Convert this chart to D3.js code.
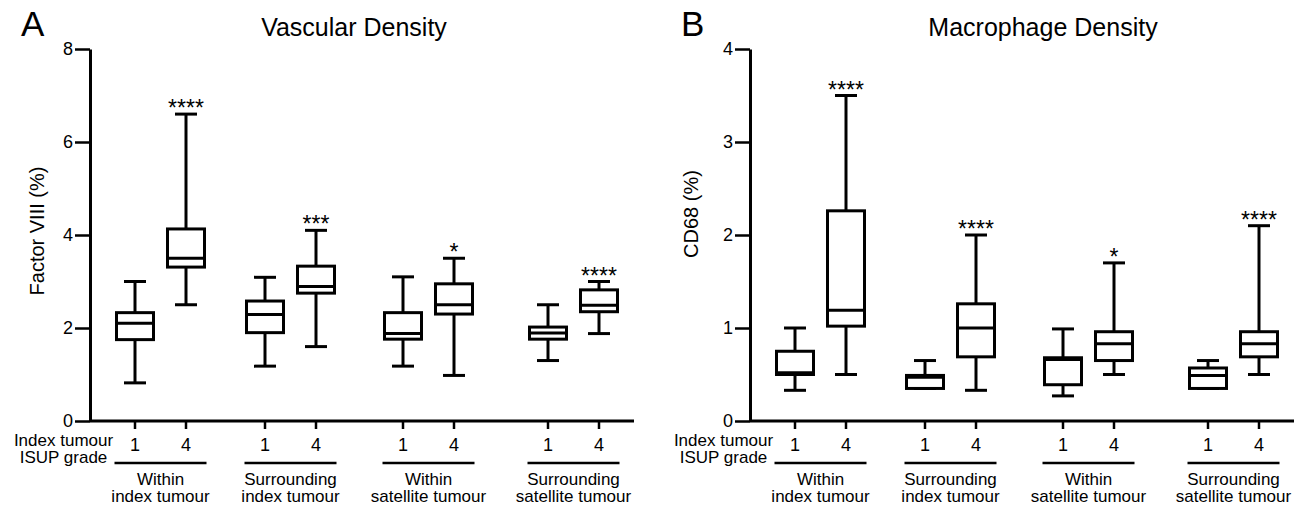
<!DOCTYPE html>
<html>
<head>
<meta charset="utf-8">
<script src="https://cdn.jsdelivr.net/npm/d3@7"></script>
<style>
  body { margin: 0; background: #fff; }
  text { font-family: "Liberation Sans", Arial, sans-serif; fill: #000; }
</style>
</head>
<body>
<svg id="chart" width="1307" height="506"></svg>
<script>
// Groups along the x axis, two ISUP grades in each
const groupLabels = [
    ["Within", "index tumour"],
    ["Surrounding", "index tumour"],
    ["Within", "satellite tumour"],
    ["Surrounding", "satellite tumour"]
];
const grades = ["1", "4"];
const gradeTitle = ["Index tumour", "ISUP grade"];

// Panel A - Factor VIII (%), boxes in order: grade 1, grade 4 for each group
const vascMin = [0.82, 2.5, 1.18, 1.6, 1.18, 0.98, 1.3, 1.88];
const vascQ1  = [1.75, 3.31, 1.9, 2.75, 1.76, 2.3, 1.76, 2.35];
const vascMed = [2.1, 3.5, 2.29, 2.89, 1.88, 2.5, 1.89, 2.49];
const vascQ3  = [2.33, 4.13, 2.58, 3.33, 2.33, 2.95, 2.02, 2.82];
const vascMax = [3.0, 6.6, 3.09, 4.1, 3.1, 3.5, 2.5, 3.0];
const vascStars = ["", "****", "", "***", "", "*", "", "****"];
const vascTicks = [0, 2, 4, 6, 8];

// Panel B - CD68 (%)
const macMin = [0.33, 0.5, 0.35, 0.33, 0.27, 0.5, 0.35, 0.5];
const macQ1  = [0.5, 1.02, 0.35, 0.69, 0.39, 0.65, 0.35, 0.69];
const macMed = [0.52, 1.19, 0.47, 1.0, 0.66, 0.83, 0.49, 0.83];
const macQ3  = [0.75, 2.26, 0.49, 1.26, 0.68, 0.96, 0.57, 0.96];
const macMax = [1.0, 3.5, 0.65, 2.0, 0.99, 1.7, 0.65, 2.1];
const macStars = ["", "****", "", "****", "", "*", "", "****"];
const macTicks = [0, 1, 2, 3, 4];

const svg = d3.select("#chart");

const yTop = 49, yBottom = 421;
const axisLength = 544;
const stroke = 3;

// group centres measured from the y axis (gaps are not equal in the figure)
const xGroup = d3.scaleLinear().domain([0, 1, 2, 3]).range([70.5, 200.5, 338.5, 483.5]);
const xGrade = d3.scalePoint().domain(grades).range([-25.5, 25.5]);

function drawPanel(cfg) {
    const g = svg.append("g").attr("transform", `translate(${cfg.left},0)`);

    const y = d3.scaleLinear().domain([0, d3.max(cfg.ticks)]).range([yBottom, yTop]);

    // panel letter and title
    svg.append("text")
        .attr("x", cfg.left - 69).attr("y", 36)
        .style("font-size", "35px")
        .text(cfg.letter);
    svg.append("text")
        .attr("x", cfg.titleX).attr("y", 36)
        .attr("text-anchor", "middle")
        .style("font-size", "25px")
        .text(cfg.title);

    // y axis
    const yAxis = g.append("g")
        .call(d3.axisLeft(y).tickValues(cfg.ticks).tickFormat(d3.format("d"))
            .tickSize(15).tickSizeOuter(0).tickPadding(2));
    yAxis.select(".domain").attr("stroke", "#000").attr("stroke-width", stroke);
    yAxis.selectAll(".tick line").attr("stroke", "#000").attr("stroke-width", 2.5);
    yAxis.selectAll(".tick text")
        .style("font-size", "18px")
        .style("font-family", '"Liberation Sans", Arial, sans-serif')
        .attr("fill", "#000");

    g.append("text")
        .attr("transform", `translate(${cfg.yTitleX},${cfg.yTitleY}) rotate(-90)`)
        .attr("text-anchor", "middle")
        .style("font-size", "20px")
        .text(cfg.yTitle);

    // x axis line
    g.append("line")
        .attr("x1", 0).attr("x2", axisLength)
        .attr("y1", y(0)).attr("y2", y(0))
        .attr("stroke", "#000").attr("stroke-width", stroke);

    const boxes = [];
    groupLabels.forEach((lab, gi) => {
        grades.forEach((gr, k) => {
            const i = gi * 2 + k;
            boxes.push({
                x: xGroup(gi) + xGrade(gr), grade: gr,
                min: cfg.min[i], q1: cfg.q1[i], med: cfg.med[i], q3: cfg.q3[i], max: cfg.max[i],
                star: cfg.stars[i]
            });
        });
    });

    // x ticks and grade labels
    g.selectAll(".xtick").data(boxes).enter().append("line")
        .attr("x1", d => d.x).attr("x2", d => d.x)
        .attr("y1", y(0)).attr("y2", y(0) + 8)
        .attr("stroke", "#000").attr("stroke-width", 2.5);
    g.selectAll(".xlab").data(boxes).enter().append("text")
        .attr("x", d => d.x).attr("y", 451)
        .attr("text-anchor", "middle")
        .style("font-size", "18px")
        .text(d => d.grade);

    const gt = g.append("text").attr("text-anchor", "middle").style("font-size", "17px");
    gradeTitle.forEach((t, li) => {
        gt.append("tspan").attr("x", -26.5).attr("y", 446 + li * 17).text(t);
    });

    // group underline + labels
    groupLabels.forEach((lab, gi) => {
        const cx = xGroup(gi);
        g.append("line")
            .attr("x1", cx - 46).attr("x2", cx + 46)
            .attr("y1", 463).attr("y2", 463)
            .attr("stroke", "#000").attr("stroke-width", 2.5);
        const tl = g.append("text")
            .attr("text-anchor", "middle")
            .style("font-size", "17px");
        lab.forEach((t, li) => {
            tl.append("tspan").attr("x", cx).attr("y", 485 + li * 17).text(t);
        });
    });

    // box plots
    const bw = 37, cap = 22;
    const bx = g.selectAll(".box").data(boxes).enter().append("g")
        .attr("fill", "none").attr("stroke", "#000").attr("stroke-width", stroke);

    bx.append("line")
        .attr("x1", d => d.x).attr("x2", d => d.x)
        .attr("y1", d => y(d.max)).attr("y2", d => y(d.q3));
    bx.append("line")
        .attr("x1", d => d.x).attr("x2", d => d.x)
        .attr("y1", d => y(d.q1)).attr("y2", d => y(d.min));
    bx.append("line")
        .attr("x1", d => d.x - cap / 2).attr("x2", d => d.x + cap / 2)
        .attr("y1", d => y(d.max)).attr("y2", d => y(d.max));
    bx.append("line")
        .attr("x1", d => d.x - cap / 2).attr("x2", d => d.x + cap / 2)
        .attr("y1", d => y(d.min)).attr("y2", d => y(d.min));
    bx.append("rect")
        .attr("x", d => d.x - bw / 2).attr("width", bw)
        .attr("y", d => y(d.q3)).attr("height", d => y(d.q1) - y(d.q3))
        .attr("fill", "#fff");
    bx.append("line")
        .attr("x1", d => d.x - bw / 2).attr("x2", d => d.x + bw / 2)
        .attr("y1", d => y(d.med)).attr("y2", d => y(d.med));

    // significance stars
    g.selectAll(".star").data(boxes.filter(d => d.star)).enter().append("text")
        .attr("x", d => d.x).attr("y", d => y(d.max) + 2)
        .attr("text-anchor", "middle")
        .style("font-size", "23px")
        .text(d => d.star);
}

drawPanel({
    left: 90, letter: "A", title: "Vascular Density", titleX: 354,
    yTitle: "Factor VIII (%)", yTitleX: -46, yTitleY: 231,
    ticks: vascTicks, min: vascMin, q1: vascQ1, med: vascMed, q3: vascQ3, max: vascMax, stars: vascStars
});
drawPanel({
    left: 750, letter: "B", title: "Macrophage Density", titleX: 1043,
    yTitle: "CD68 (%)", yTitleX: -52, yTitleY: 214,
    ticks: macTicks, min: macMin, q1: macQ1, med: macMed, q3: macQ3, max: macMax, stars: macStars
});
</script>
</body>
</html>
